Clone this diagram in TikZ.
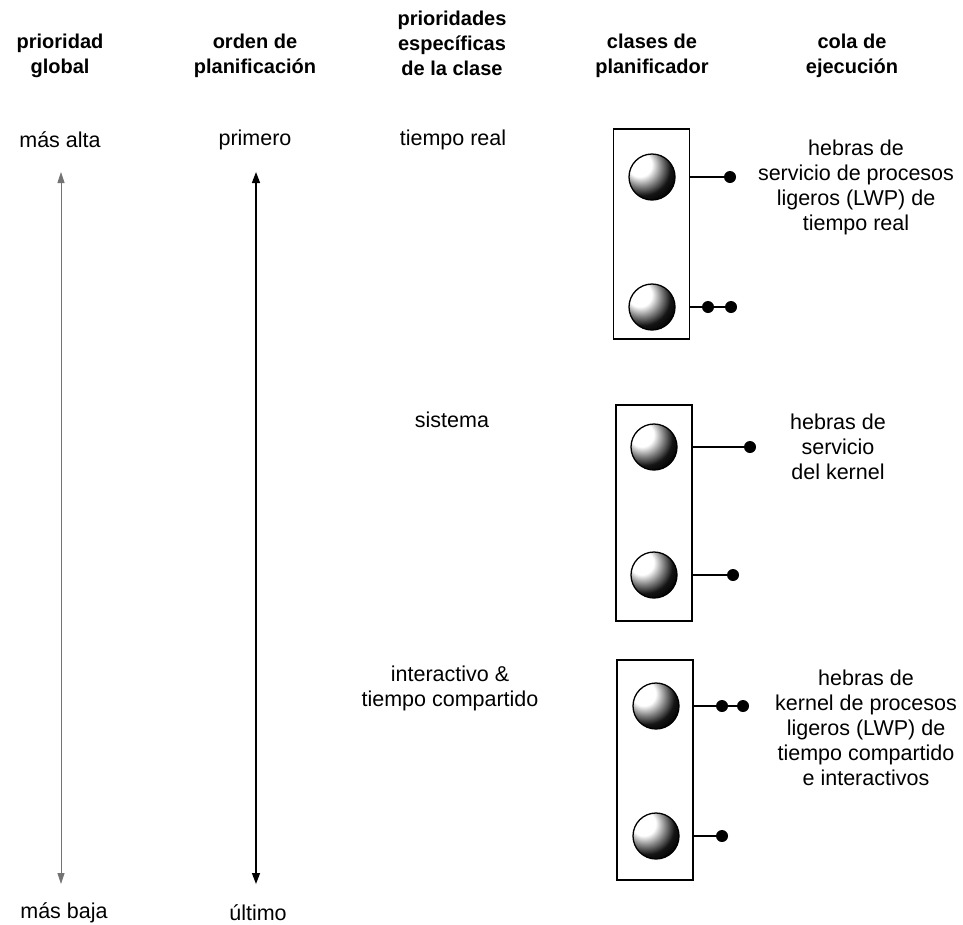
\documentclass[tikz,border=0pt]{standalone}
\usepackage{fontspec}
\setmainfont{Liberation Sans}
\usetikzlibrary{arrows.meta}
\pgfdeclareradialshading{shinyball}{\pgfpoint{-16bp}{16bp}}{color(0bp)=(white); color(13bp)=(white); color(22bp)=(black!50); color(30bp)=(black!92); color(38bp)=(black); color(80bp)=(black)}
\tikzset{
  hdr/.style={font=\fontsize{20}{25}\selectfont\bfseries, align=center, inner sep=0pt},
  lbl/.style={font=\fontsize{21.5}{25}\selectfont, align=center, inner sep=0pt},
  classbox/.style={draw, line width=1.4pt, minimum width=76pt, inner sep=0pt},
  sphere/.style={circle, minimum size=46pt, inner sep=0pt, shading=shinyball, draw, line width=1.3pt},
  qdot/.style={circle, fill=black, minimum size=12pt, inner sep=0pt},
  qline/.style={line width=1.3pt},
  scalegray/.style={line width=0.8pt, draw=black!55, {Triangle[width=7pt,length=11pt]}-{Triangle[width=7pt,length=11pt]}},
  scaleblack/.style={line width=1.4pt, {Triangle[width=8pt,length=11pt]}-{Triangle[width=8pt,length=11pt]}}
}
\begin{document}
\begin{tikzpicture}[x=1pt,y=-1pt]
\useasboundingbox[fill=white] (0,0) rectangle (963,924);

% headers
\node[hdr] (h1) at (60,56) {prioridad\\global};
\node[hdr] (h2) at (255,56) {orden de\\planificación};
\node[hdr] (h3) at (452,43) {prioridades\\específicas\\de la clase};
\node[hdr] (h4) at (652,56) {clases de\\planificador};
\node[hdr] (h5) at (852,56) {cola de\\ejecución};

% scale labels
\node[lbl] (alta) at (60,140) {más alta};
\node[lbl] (primero) at (255,140) {primero};
\node[lbl] (baja) at (64,913) {más baja};
\node[lbl] (ultimo) at (258,913) {último};

\coordinate (g1) at (61,172);
\coordinate (g2) at (61,884);
\coordinate (o1) at (256,172);
\coordinate (o2) at (256,884);
\draw[scalegray] (g1) -- (g2);
\draw[scaleblack] (o1) -- (o2);

% class labels
\node[lbl] (ctr) at (453,140) {tiempo real};
\node[lbl] (csys) at (452,420) {sistema};
\node[lbl] (cint) at (450,688) {interactivo \&\\tiempo compartido};

% boxes
\node[classbox, minimum height=210pt] (box1) at (651.5,234) {};
\node[classbox, minimum height=216pt] (box2) at (654,513) {};
\node[classbox, minimum height=220pt] (box3) at (655,770) {};

% balls
\node[sphere] (b1a) at (652,177) {};
\node[sphere] (b1b) at (652,307) {};
\node[sphere] (b2a) at (654,447) {};
\node[sphere] (b2b) at (654,575) {};
\node[sphere] (b3a) at (656,706) {};
\node[sphere] (b3b) at (656,836) {};

% queue dots
\node[qdot] (d1a) at (730,177) {};
\node[qdot] (d1b1) at (708,307) {};
\node[qdot] (d1b2) at (731,307) {};
\node[qdot] (d2a) at (750,447) {};
\node[qdot] (d2b) at (733,575) {};
\node[qdot] (d3a1) at (722,706) {};
\node[qdot] (d3a2) at (743,706) {};
\node[qdot] (d3b) at (722,836) {};

% connectors
\draw[qline] (b1a -| box1.east) -- (d1a);
\draw[qline] (b1b -| box1.east) -- (d1b1) -- (d1b2);
\draw[qline] (b2a -| box2.east) -- (d2a);
\draw[qline] (b2b -| box2.east) -- (d2b);
\draw[qline] (b3a -| box3.east) -- (d3a1) -- (d3a2);
\draw[qline] (b3b -| box3.east) -- (d3b);

% queue descriptions
\node[lbl] (q1) at (856,187) {hebras de\\servicio de procesos\\ligeros (LWP) de\\tiempo real};
\node[lbl] (q2) at (838,447) {hebras de\\servicio\\del kernel};
\node[lbl] (q3) at (866,728) {hebras de\\kernel de procesos\\ligeros (LWP) de\\tiempo compartido\\e interactivos};
\end{tikzpicture}
\end{document}
